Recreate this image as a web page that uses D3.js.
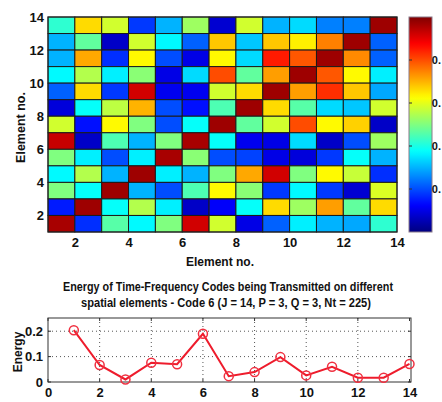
<!DOCTYPE html>
<html>
<head>
<meta charset="utf-8">
<script src="https://cdn.jsdelivr.net/npm/d3@7"></script>
<style>
  html, body { margin: 0; padding: 0; background: #fff; }
  svg { display: block; }
  text { font-family: "Liberation Sans Narrow", "Arial Narrow", "Liberation Sans", Arial, sans-serif; font-weight: bold; fill: #111; }
</style>
</head>
<body>
<svg id="chart" width="442" height="402"></svg>
<script>
// Spatial element index (columns) and grid edges
const elementEdges = d3.range(1, 15);            // 1..14
const heatTicks = [2, 4, 6, 8, 10, 12, 14];

// Code amplitude per cell, rows listed from the top row (y 13-14) to the bottom row (y 1-2)
const row13 = [0.42, 0.66, 0.58, 0.18, 0.30, 0.53, 0.08, 0.58, 0.30, 0.34, 0.25, 0.25, 0.97];
const row12 = [0.30, 0.47, 0.07, 0.58, 0.37, 0.22, 0.68, 0.32, 0.68, 0.64, 0.75, 0.97, 0.22];
const row11 = [0.30, 0.71, 0.17, 0.63, 0.20, 0.10, 0.63, 0.34, 0.85, 0.79, 0.97, 0.74, 0.22];
const row10 = [0.37, 0.55, 0.36, 0.51, 0.10, 0.34, 0.80, 0.47, 0.72, 0.97, 0.79, 0.63, 0.36];
const row9  = [0.22, 0.66, 0.18, 0.92, 0.11, 0.11, 0.58, 0.66, 0.97, 0.72, 0.83, 0.68, 0.29];
const row8  = [0.09, 0.38, 0.56, 0.70, 0.20, 0.14, 0.45, 0.97, 0.66, 0.46, 0.34, 0.32, 0.58];
const row7  = [0.58, 0.14, 0.63, 0.50, 0.20, 0.38, 0.97, 0.47, 0.58, 0.80, 0.63, 0.67, 0.07];
const row6  = [0.93, 0.07, 0.45, 0.30, 0.50, 0.96, 0.38, 0.11, 0.10, 0.34, 0.07, 0.20, 0.53];
const row5  = [0.50, 0.36, 0.20, 0.36, 0.96, 0.51, 0.20, 0.19, 0.10, 0.09, 0.18, 0.38, 0.30];
const row4  = [0.37, 0.55, 0.30, 0.97, 0.36, 0.30, 0.50, 0.71, 0.92, 0.50, 0.63, 0.57, 0.17];
const row3  = [0.50, 0.38, 0.97, 0.30, 0.20, 0.45, 0.63, 0.51, 0.18, 0.37, 0.18, 0.08, 0.59];
const row2  = [0.15, 0.97, 0.38, 0.55, 0.36, 0.07, 0.12, 0.38, 0.66, 0.53, 0.72, 0.47, 0.66];
const row1  = [0.96, 0.17, 0.46, 0.37, 0.50, 0.92, 0.58, 0.10, 0.22, 0.36, 0.30, 0.29, 0.42];
const codeRows = [row13, row12, row11, row10, row9, row8, row7, row6, row5, row4, row3, row2, row1];

// Colorbar ticks
const colorTicks = [0.2, 0.4, 0.6, 0.8];

// Energy per spatial element
const elements = d3.range(1, 15);                // 1..14
const energy = [0.204, 0.067, 0.010, 0.076, 0.070, 0.190, 0.023, 0.039, 0.098, 0.026, 0.060, 0.017, 0.017, 0.071];
const energyXTicks = [0, 2, 4, 6, 8, 10, 12, 14];
const energyYTicks = [0, 0.1, 0.2];

const titleLine1 = "Energy of Time-Frequency Codes being Transmitted on different";
const titleLine2 = "spatial elements - Code 6 (J = 14, P = 3, Q = 3,  Nt = 225)";

// MATLAB-style jet colormap
function jet(t) {
  const c = v => Math.max(0, Math.min(1, v));
  const r = c(1.5 - Math.abs(4 * t - 3));
  const g = c(1.5 - Math.abs(4 * t - 2));
  const b = c(1.5 - Math.abs(4 * t - 1));
  return d3.rgb(r * 255, g * 255, b * 255).formatHex();
}

const svg = d3.select("#chart");

// ---------- Heatmap ----------
const hm = { left: 48, right: 397, top: 17, bottom: 232 };
const hx = d3.scaleLinear().domain([1, 14]).range([hm.left, hm.right]);
const hy = d3.scaleLinear().domain([1, 14]).range([hm.bottom, hm.top]);

const cells = [];
codeRows.forEach((row, ri) => {
  const yLow = 13 - ri;            // lower edge of this row
  row.forEach((v, ci) => cells.push({ x0: ci + 1, y0: yLow, v }));
});

svg.append("g").selectAll("rect")
  .data(cells)
  .join("rect")
  .attr("x", d => hx(d.x0))
  .attr("y", d => hy(d.y0 + 1))
  .attr("width", d => hx(d.x0 + 1) - hx(d.x0))
  .attr("height", d => hy(d.y0) - hy(d.y0 + 1))
  .attr("fill", d => jet(d.v))
  .attr("stroke", "#1a1a1a")
  .attr("stroke-width", 1);

svg.append("rect")
  .attr("x", hm.left).attr("y", hm.top)
  .attr("width", hm.right - hm.left).attr("height", hm.bottom - hm.top)
  .attr("fill", "none").attr("stroke", "#222").attr("stroke-width", 1);

const hxAxis = d3.axisBottom(hx).tickValues(heatTicks).tickFormat(d3.format("d")).tickSize(0).tickPadding(6);
svg.append("g").attr("transform", `translate(0,${hm.bottom})`).call(hxAxis)
  .call(g => g.select(".domain").remove())
  .selectAll("text").attr("font-size", 13).attr("fill", "#111");

const hyAxis = d3.axisLeft(hy).tickValues(heatTicks).tickFormat(d3.format("d")).tickSize(0).tickPadding(4);
svg.append("g").attr("transform", `translate(${hm.left},0)`).call(hyAxis)
  .call(g => g.select(".domain").remove())
  .selectAll("text").attr("font-size", 13).attr("fill", "#111");

svg.append("text")
  .attr("transform", `translate(25,${(hm.top + hm.bottom) / 2 + 3}) rotate(-90)`)
  .attr("text-anchor", "middle").attr("font-size", 12.5)
  .text("Element no.");

svg.append("text")
  .attr("x", 220).attr("y", 266)
  .attr("text-anchor", "middle").attr("font-size", 12)
  .text("Element no.");

// ---------- Colorbar ----------
const cb = { x: 409, w: 23, top: 17, bottom: 232 };
const cy = d3.scaleLinear().domain([0, 1]).range([cb.bottom, cb.top]);
const defs = svg.append("defs");
const grad = defs.append("linearGradient").attr("id", "jetGrad")
  .attr("x1", 0).attr("y1", 1).attr("x2", 0).attr("y2", 0);
grad.selectAll("stop")
  .data(d3.range(0, 1.0001, 0.02))
  .join("stop")
  .attr("offset", d => d)
  .attr("stop-color", d => jet(d));

svg.append("rect")
  .attr("x", cb.x).attr("y", cb.top)
  .attr("width", cb.w).attr("height", cb.bottom - cb.top)
  .attr("fill", "url(#jetGrad)")
  .attr("stroke", "#8a7a8a").attr("stroke-width", 1);

// the colorbar labels sit against the right edge of the figure: only the
// leading "0." of each value fits in the remaining space
const cbLabel = d => d3.format(".1f")(d).slice(0, 2);
svg.append("g").selectAll("text")
  .data(colorTicks)
  .join("text")
  .attr("x", 441)
  .attr("y", d => cy(d))
  .attr("dy", "0.35em")
  .attr("text-anchor", "end")
  .attr("font-size", 11)
  .text(cbLabel);

svg.append("g").selectAll("line")
  .data(colorTicks)
  .join("line")
  .attr("x1", cb.x).attr("x2", cb.x + 3)
  .attr("y1", d => cy(d)).attr("y2", d => cy(d))
  .attr("stroke", "#333").attr("stroke-width", 1);

// ---------- Energy plot ----------
const ep = { left: 48, right: 411, top: 318, bottom: 382 };
const ex = d3.scaleLinear().domain([0, 14]).range([ep.left, ep.right - 1.5]);
const ey = d3.scaleLinear().domain([0, 0.252]).range([ep.bottom, ep.top]);

svg.append("text")
  .attr("x", 228).attr("y", 291)
  .attr("text-anchor", "middle").attr("font-size", 12)
  .attr("textLength", 330).attr("lengthAdjust", "spacingAndGlyphs")
  .text(titleLine1);
svg.append("text")
  .attr("x", 226).attr("y", 307)
  .attr("text-anchor", "middle").attr("font-size", 12)
  .attr("textLength", 290).attr("lengthAdjust", "spacingAndGlyphs")
  .text(titleLine2);

// dotted grid
const grid = svg.append("g").attr("stroke", "#555").attr("stroke-width", 1).attr("stroke-dasharray", "1,3");
grid.selectAll(".gx")
  .data(energyXTicks.filter(d => d > 0 && d < 14))
  .join("line")
  .attr("x1", d => ex(d)).attr("x2", d => ex(d))
  .attr("y1", ep.top).attr("y2", ep.bottom);
grid.selectAll(".gy")
  .data(energyYTicks.filter(d => d > 0))
  .join("line")
  .attr("x1", ep.left).attr("x2", ep.right)
  .attr("y1", d => ey(d)).attr("y2", d => ey(d));

svg.append("rect")
  .attr("x", ep.left).attr("y", ep.top)
  .attr("width", ep.right - ep.left).attr("height", ep.bottom - ep.top)
  .attr("fill", "none").attr("stroke", "#333").attr("stroke-width", 1);

// inward ticks
const tk = svg.append("g").attr("stroke", "#333").attr("stroke-width", 1);
energyXTicks.forEach(d => {
  tk.append("line").attr("x1", ex(d)).attr("x2", ex(d)).attr("y1", ep.bottom).attr("y2", ep.bottom - 3);
  tk.append("line").attr("x1", ex(d)).attr("x2", ex(d)).attr("y1", ep.top).attr("y2", ep.top + 3);
});
energyYTicks.forEach(d => {
  tk.append("line").attr("x1", ep.left).attr("x2", ep.left + 3).attr("y1", ey(d)).attr("y2", ey(d));
  tk.append("line").attr("x1", ep.right).attr("x2", ep.right - 3).attr("y1", ey(d)).attr("y2", ey(d));
});

const exAxis = d3.axisBottom(ex).tickValues(energyXTicks).tickFormat(d3.format("d")).tickSize(0).tickPadding(6);
svg.append("g").attr("transform", `translate(0,${ep.bottom})`).call(exAxis)
  .call(g => g.select(".domain").remove())
  .selectAll("text").attr("font-size", 13).attr("fill", "#111");

const eyAxis = d3.axisLeft(ey).tickValues(energyYTicks).tickFormat(d => d === 0 ? "0" : d3.format(".1f")(d)).tickSize(0).tickPadding(5);
svg.append("g").attr("transform", `translate(${ep.left},0)`).call(eyAxis)
  .call(g => g.select(".domain").remove())
  .selectAll("text").attr("font-size", 13).attr("fill", "#111");

svg.append("text")
  .attr("transform", `translate(22,${(ep.top + ep.bottom) / 2 + 2}) rotate(-90)`)
  .attr("text-anchor", "middle").attr("font-size", 12)
  .text("Energy");

const line = d3.line().x((d, i) => ex(elements[i])).y(d => ey(d));
svg.append("path")
  .datum(energy)
  .attr("d", line)
  .attr("fill", "none")
  .attr("stroke", "#ee1c2c")
  .attr("stroke-width", 2);

svg.append("g").selectAll("circle")
  .data(energy)
  .join("circle")
  .attr("cx", (d, i) => ex(elements[i]))
  .attr("cy", d => ey(d))
  .attr("r", 4.5)
  .attr("fill", "none")
  .attr("stroke", "#f03040")
  .attr("stroke-width", 1.5);
</script>
</body>
</html>
